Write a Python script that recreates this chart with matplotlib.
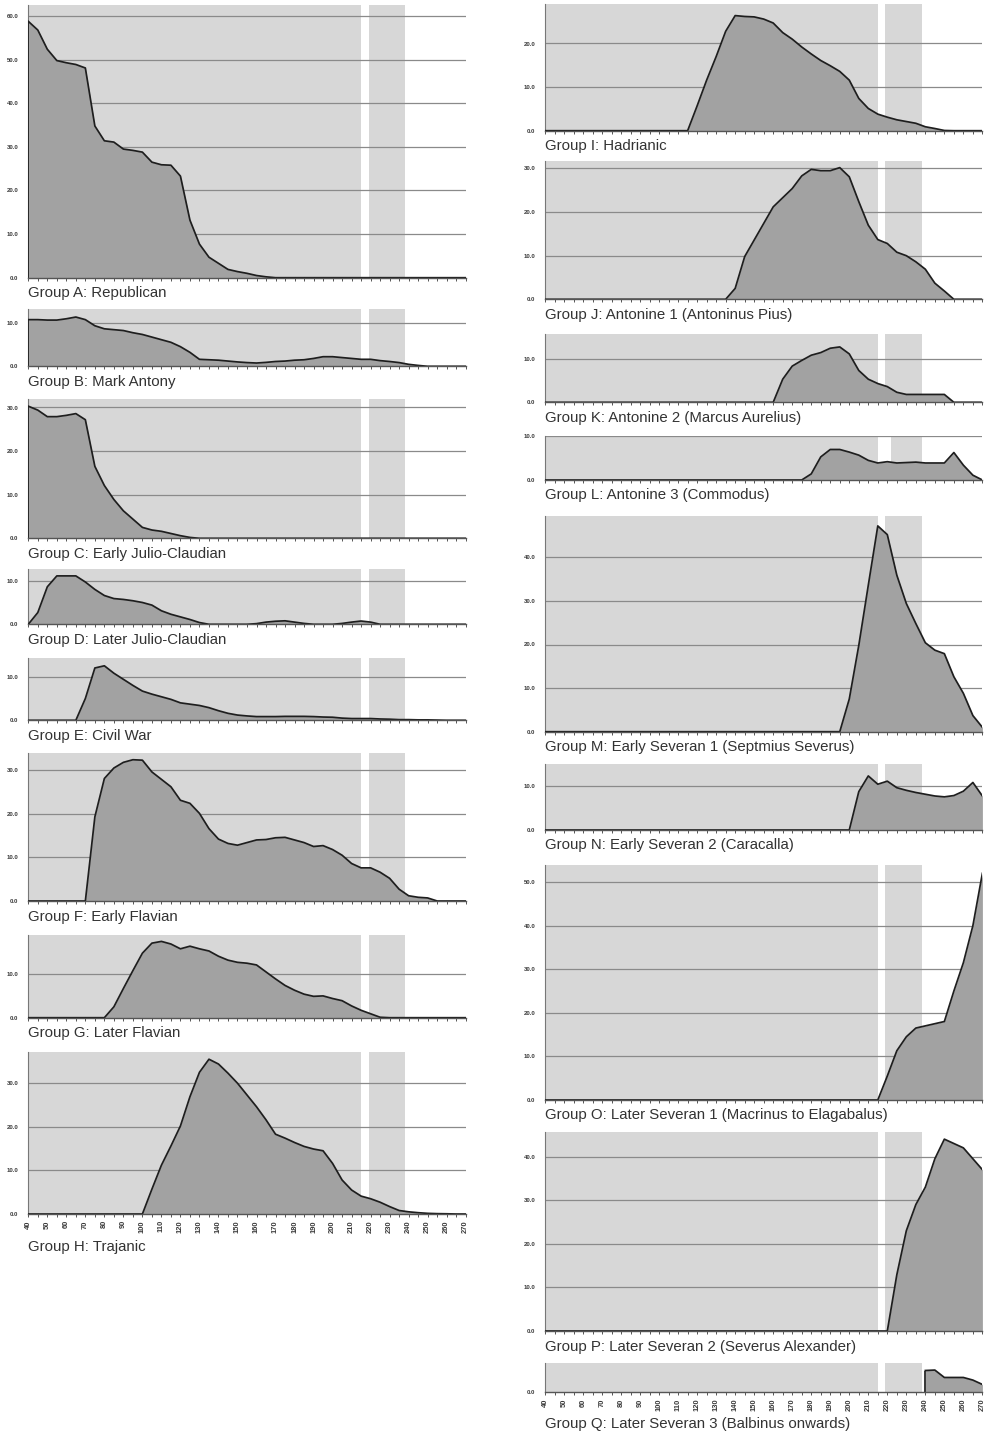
import numpy as np
import matplotlib
matplotlib.use("Agg")
import matplotlib.pyplot as plt
from matplotlib.ticker import MultipleLocator

plt.rcParams['font.family'] = ['Liberation Sans', 'DejaVu Sans']

# ---------------- data ----------------
years = list(range(40, 275, 5))
year_labels = [str(v) for v in range(40, 275, 10)]

group_a = [58.8, 56.8, 52.4, 49.8, 49.3, 48.9, 48.1, 34.8, 31.4, 31.1, 29.5, 29.2, 28.8, 26.5, 25.9, 25.8,
           23.3, 13.2, 7.7, 4.7, 3.3, 1.9, 1.4, 1.0, 0.5, 0.2, 0, 0, 0, 0, 0, 0, 0, 0, 0, 0, 0, 0, 0, 0,
           0, 0, 0, 0, 0, 0, 0]
group_b = [10.7, 10.7, 10.6, 10.6, 10.9, 11.3, 10.7, 9.3, 8.6, 8.4, 8.2, 7.7, 7.3, 6.7, 6.1, 5.5, 4.5, 3.2,
           1.6, 1.5, 1.4, 1.2, 1.0, 0.85, 0.75, 0.9, 1.1, 1.2, 1.4, 1.5, 1.8, 2.2, 2.2, 2.0, 1.8, 1.6, 1.6,
           1.3, 1.1, 0.85, 0.45, 0.2, 0, 0, 0, 0, 0]
group_c = [30.3, 29.4, 27.9, 27.9, 28.2, 28.6, 27.2, 16.5, 12.1, 8.9, 6.3, 4.4, 2.5, 1.9, 1.6, 1.1, 0.6, 0.2,
           0, 0, 0, 0, 0, 0, 0, 0, 0, 0, 0, 0, 0, 0, 0, 0, 0, 0, 0, 0, 0, 0, 0, 0, 0, 0, 0, 0, 0]
group_d = [0, 2.7, 8.6, 11.1, 11.1, 11.1, 9.7, 8.0, 6.6, 5.9, 5.7, 5.4, 5.0, 4.4, 3.1, 2.3, 1.7, 1.1, 0.4, 0,
           0, 0, 0, 0, 0.15, 0.5, 0.7, 0.8, 0.5, 0.2, 0, 0, 0, 0.2, 0.5, 0.75, 0.5, 0, 0, 0, 0, 0, 0, 0, 0,
           0, 0]
group_e = [0, 0, 0, 0, 0, 0, 5.0, 12.0, 12.5, 10.8, 9.4, 8.0, 6.7, 6.0, 5.4, 4.8, 4.0, 3.7, 3.4, 2.9, 2.2,
           1.6, 1.2, 1.0, 0.85, 0.85, 0.85, 0.9, 0.9, 0.9, 0.85, 0.75, 0.7, 0.5, 0.4, 0.4, 0.4, 0.3, 0.25,
           0.15, 0.15, 0.1, 0.1, 0.05, 0, 0, 0]
group_f = [0, 0, 0, 0, 0, 0, 0, 19.3, 28.1, 30.5, 31.8, 32.4, 32.3, 29.6, 27.9, 26.2, 23.1, 22.4, 20.1, 16.6,
           14.2, 13.2, 12.8, 13.4, 14.0, 14.1, 14.5, 14.6, 14.0, 13.4, 12.5, 12.7, 11.8, 10.5, 8.6, 7.6, 7.6,
           6.6, 5.2, 2.7, 1.2, 0.85, 0.7, 0, 0, 0, 0]
group_g = [0, 0, 0, 0, 0, 0, 0, 0, 0, 2.5, 6.7, 10.8, 14.8, 17.1, 17.5, 16.9, 15.8, 16.4, 15.8, 15.3, 14.1,
           13.2, 12.7, 12.5, 12.1, 10.5, 8.9, 7.4, 6.3, 5.4, 4.9, 5.0, 4.4, 3.9, 2.7, 1.7, 0.9, 0.1, 0, 0,
           0, 0, 0, 0, 0, 0, 0]
group_h = [0, 0, 0, 0, 0, 0, 0, 0, 0, 0, 0, 0, 0, 5.7, 11.2, 15.6, 20.2, 26.9, 32.5, 35.5, 34.4, 32.3, 30.0,
           27.3, 24.6, 21.6, 18.3, 17.4, 16.4, 15.5, 14.9, 14.5, 11.6, 7.8, 5.5, 4.1, 3.5, 2.7, 1.7, 0.8,
           0.5, 0.3, 0.15, 0.08, 0.05, 0, 0]
group_i = [0, 0, 0, 0, 0, 0, 0, 0, 0, 0, 0, 0, 0, 0, 0, 0, 5.7, 11.6, 17.0, 22.8, 26.4, 26.2, 26.1, 25.6,
           24.7, 22.5, 21.0, 19.2, 17.6, 16.1, 14.9, 13.6, 11.6, 7.4, 5.1, 3.8, 3.1, 2.5, 2.1, 1.7, 0.9, 0.5,
           0.05, 0, 0, 0, 0]
group_j = [0, 0, 0, 0, 0, 0, 0, 0, 0, 0, 0, 0, 0, 0, 0, 0, 0, 0, 0, 0, 2.5, 9.8, 13.6, 17.4, 21.2, 23.3,
           25.4, 28.3, 29.8, 29.5, 29.5, 30.2, 28.1, 22.4, 17.0, 13.7, 12.8, 10.8, 10.0, 8.6, 6.9, 3.7, 1.9,
           0, 0, 0, 0]
group_k = [0, 0, 0, 0, 0, 0, 0, 0, 0, 0, 0, 0, 0, 0, 0, 0, 0, 0, 0, 0, 0, 0, 0, 0, 0, 5.3, 8.3, 9.6, 10.8,
           11.4, 12.4, 12.7, 11.1, 7.3, 5.3, 4.3, 3.6, 2.3, 1.8, 1.8, 1.8, 1.8, 1.8, 0, 0, 0, 0]
group_l = [0, 0, 0, 0, 0, 0, 0, 0, 0, 0, 0, 0, 0, 0, 0, 0, 0, 0, 0, 0, 0, 0, 0, 0, 0, 0, 0, 0, 1.4, 5.3,
           7.0, 7.0, 6.4, 5.7, 4.5, 3.9, 4.2, 3.9, 4.0, 4.1, 3.9, 3.9, 3.9, 6.3, 3.4, 1.1, 0]
group_m = [0, 0, 0, 0, 0, 0, 0, 0, 0, 0, 0, 0, 0, 0, 0, 0, 0, 0, 0, 0, 0, 0, 0, 0, 0, 0, 0, 0, 0, 0, 0, 0,
           7.5, 19.8, 33.6, 47.2, 45.2, 35.9, 29.4, 24.8, 20.4, 18.7, 17.9, 12.6, 8.8, 3.7, 1.0]
group_n = [0, 0, 0, 0, 0, 0, 0, 0, 0, 0, 0, 0, 0, 0, 0, 0, 0, 0, 0, 0, 0, 0, 0, 0, 0, 0, 0, 0, 0, 0, 0, 0,
           0, 8.8, 12.4, 10.5, 11.2, 9.7, 9.1, 8.6, 8.2, 7.8, 7.6, 7.9, 8.9, 10.9, 7.8]
group_o = [0, 0, 0, 0, 0, 0, 0, 0, 0, 0, 0, 0, 0, 0, 0, 0, 0, 0, 0, 0, 0, 0, 0, 0, 0, 0, 0, 0, 0, 0, 0, 0,
           0, 0, 0, 0, 5.5, 11.3, 14.5, 16.5, 17.0, 17.5, 18.0, 25.0, 31.5, 40.0, 52.0]
group_p = [0, 0, 0, 0, 0, 0, 0, 0, 0, 0, 0, 0, 0, 0, 0, 0, 0, 0, 0, 0, 0, 0, 0, 0, 0, 0, 0, 0, 0, 0, 0, 0,
           0, 0, 0, 0, 0, 12.9, 23.0, 29.0, 33.0, 39.5, 44.0, 43.0, 42.0, 39.5, 37.0]
group_q = [None] * 40 + [5.0, 5.1, 3.4, 3.4, 3.4, 2.8, 1.8]

labels_left = ["Group A: Republican", "Group B: Mark Antony", "Group C: Early Julio-Claudian",
               "Group D: Later Julio-Claudian", "Group E: Civil War", "Group F: Early Flavian",
               "Group G: Later Flavian", "Group H: Trajanic"]
labels_right = ["Group I: Hadrianic", "Group J: Antonine 1 (Antoninus Pius)",
                "Group K: Antonine 2 (Marcus Aurelius)", "Group L: Antonine 3 (Commodus)",
                "Group M: Early Severan 1 (Septmius Severus)", "Group N: Early Severan 2 (Caracalla)",
                "Group O: Later Severan 1 (Macrinus to Elagabalus)",
                "Group P: Later Severan 2 (Severus Alexander)",
                "Group Q: Later Severan 3 (Balbinus onwards)"]

# ---------------- layout / style ----------------
W, H = 987, 1436
SCALE = 4.36            # px per unit on every panel
AX_W = 437.4
LEFT_X, RIGHT_X = 28.3, 545.0
SPAN = "#d7d7d7"
FILL = "#a2a2a2"
LINE = "#1e1e1e"
GRID = "#8a8a8a"
TXT = "#333333"

fig = plt.figure(figsize=(W / 100, H / 100), dpi=100)
fig.patch.set_facecolor("white")


def panel(x0, zero_px, ymax, vals, label, spans=((40, 215), (219, 238)), xlabels=False, label_dy=19.5):
    h = ymax * SCALE
    ax = fig.add_axes([x0 / W, 1 - zero_px / H, AX_W / W, h / H])
    ax.set_xlim(40, 270)
    ax.set_ylim(0, ymax)
    ax.set_facecolor("white")
    for a, b in spans:
        ax.axvspan(a, b, color=SPAN, lw=0, zorder=1)
    yt = list(range(0, int(ymax) + 1, 10))
    for v in yt[1:]:
        ax.axhline(v, color=GRID, lw=0.9, zorder=2)
    y = np.array(vals, dtype=float)
    x = np.array(years, dtype=float)
    ax.fill_between(x, 0, y, where=~np.isnan(y), color=FILL, lw=0, zorder=3, interpolate=False)
    ax.plot(x, y, color=LINE, lw=1.25, zorder=4, solid_joinstyle="round")
    valid = np.where(~np.isnan(y))[0]
    first = valid[0]
    if y[first] > 0:
        ax.vlines(x[first], 0, y[first], color=LINE, lw=1.25, zorder=4)
    for s in ("top", "right"):
        ax.spines[s].set_visible(False)
    ax.spines["bottom"].set_color("#555555")
    ax.spines["bottom"].set_linewidth(1.0)
    ax.spines["bottom"].set_zorder(5)
    ax.spines["left"].set_color("#777777")
    ax.spines["left"].set_linewidth(0.8)
    ax.set_yticks(yt)
    ax.set_yticklabels([f"{v:.1f}" for v in yt], fontweight="bold")
    ax.tick_params(axis="y", length=0, pad=7, labelsize=4.3, labelcolor="#3a3a3a")
    ax.xaxis.set_major_locator(MultipleLocator(10))
    ax.xaxis.set_minor_locator(MultipleLocator(5))
    ax.tick_params(axis="x", which="both", direction="out", length=2.5, width=0.7, color="#555555")
    if xlabels:
        ax.set_xticks(list(range(40, 275, 10)))
        ax.set_xticklabels(year_labels, rotation=90, fontsize=5.4, color="#3a3a3a", fontweight="bold")
        ax.tick_params(axis="x", which="major", pad=2)
    else:
        ax.set_xticklabels([])
    fig.text(x0 / W, 1 - (zero_px + label_dy) / H, label, fontsize=10.8, color=TXT, va="baseline", ha="left")
    return ax


left_series = [group_a, group_b, group_c, group_d, group_e, group_f, group_g, group_h]
left_zero = [277.7, 366.3, 538.3, 624.3, 720.3, 901.0, 1017.7, 1214.0]
left_ymax = [62.5, 13.2, 31.9, 12.7, 14.2, 34.0, 19.0, 37.1]

for i, (vals, lab, z, ym) in enumerate(zip(left_series, labels_left, left_zero, left_ymax)):
    last = i == len(left_series) - 1
    panel(LEFT_X, z, ym, vals, lab, xlabels=last, label_dy=37.5 if last else 19.5)

right_series = [group_i, group_j, group_k, group_l, group_m, group_n, group_o, group_p, group_q]
right_zero = [130.7, 299.3, 402.3, 480.0, 731.7, 830.0, 1100.0, 1331.0, 1392.3]
right_ymax = [29.0, 31.8, 15.6, 10.0, 49.5, 15.1, 53.8, 45.7, 6.8]

for i, (vals, lab, z, ym) in enumerate(zip(right_series, labels_right, right_zero, right_ymax)):
    last = i == len(right_series) - 1
    spans = ((40, 215), (222, 238)) if lab.startswith("Group L") else ((40, 215), (219, 238))
    panel(RIGHT_X, z, ym, vals, lab, spans=spans, xlabels=last, label_dy=36 if last else 19.5)

fig.savefig("out.png", dpi=100, facecolor="white")
